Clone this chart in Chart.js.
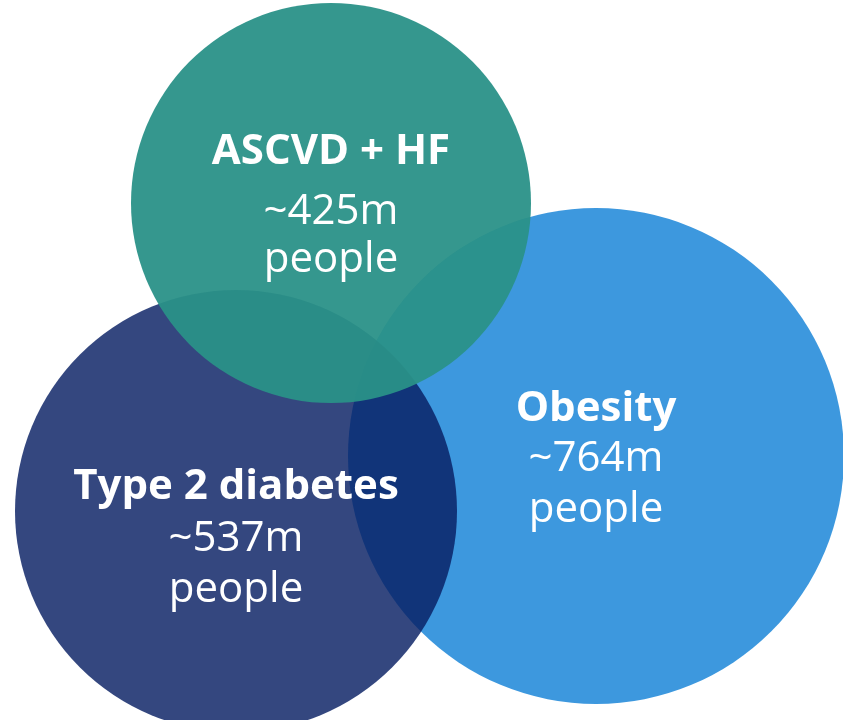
<!DOCTYPE html>
<html>
<head>
<meta charset="utf-8">
<script src="https://cdn.jsdelivr.net/npm/chart.js@4"></script>
<style>
    html, body { margin: 0; padding: 0; background: #ffffff; }
    #wrap { width: 843px; height: 720px; }
</style>
</head>
<body>
<div id="wrap"><canvas id="venn" width="843" height="720"></canvas></div>
<script>
// Venn circles (drawn back to front: Obesity, Type 2 diabetes, ASCVD + HF)
const categories = ['Obesity', 'Type 2 diabetes', 'ASCVD + HF'];
const populations = ['~764m', '~537m', '~425m'];
const unitLabel = 'people';
const centerX = [596, 236, 331];
const centerY = [456, 511, 203];
const radius = [248, 221, 200];

const fills = ['rgba(61, 152, 222, 1)', 'rgba(7, 30, 99, 0.82)', 'rgba(42, 145, 136, 0.95)'];
// vertical placement of the three text lines, relative to the circle centre
const textOffsets = [[-47, 3, 54], [-24, 28, 79], [-51, 9, 57]];

const vennLabels = {
    id: 'vennLabels',
    afterDatasetsDraw(chart) {
        const ctx = chart.ctx;
        ctx.save();
        ctx.fillStyle = '#ffffff';
        ctx.textAlign = 'center';
        ctx.textBaseline = 'middle';
        chart.data.datasets.forEach((ds, i) => {
            const pt = chart.getDatasetMeta(i).data[0];
            const off = textOffsets[i];
            ctx.font = 'bold 42px "Open Sans"';
            ctx.fillText(categories[i], pt.x, pt.y + off[0]);
            ctx.font = '42px "Open Sans"';
            ctx.fillText(populations[i], pt.x, pt.y + off[1]);
            ctx.fillText(unitLabel, pt.x, pt.y + off[2]);
        });
        ctx.restore();
    }
};

const datasets = categories.map((name, i) => ({
    label: name,
    data: [{ x: centerX[i], y: centerY[i], r: radius[i] }],
    backgroundColor: fills[i],
    borderWidth: 0,
    hoverBorderWidth: 0,
    hoverRadius: 0,
    clip: false,
    order: categories.length - i
}));

new Chart(document.getElementById('venn').getContext('2d'), {
    type: 'bubble',
    data: { datasets: datasets },
    options: {
        responsive: false,
        animation: false,
        events: [],
        layout: { padding: 0, autoPadding: false },
        plugins: {
            legend: { display: false },
            tooltip: { enabled: false }
        },
        scales: {
            x: { type: 'linear', min: 0, max: 843, display: false },
            y: { type: 'linear', min: 0, max: 720, reverse: true, display: false }
        }
    },
    plugins: [vennLabels]
});
</script>
</body>
</html>
